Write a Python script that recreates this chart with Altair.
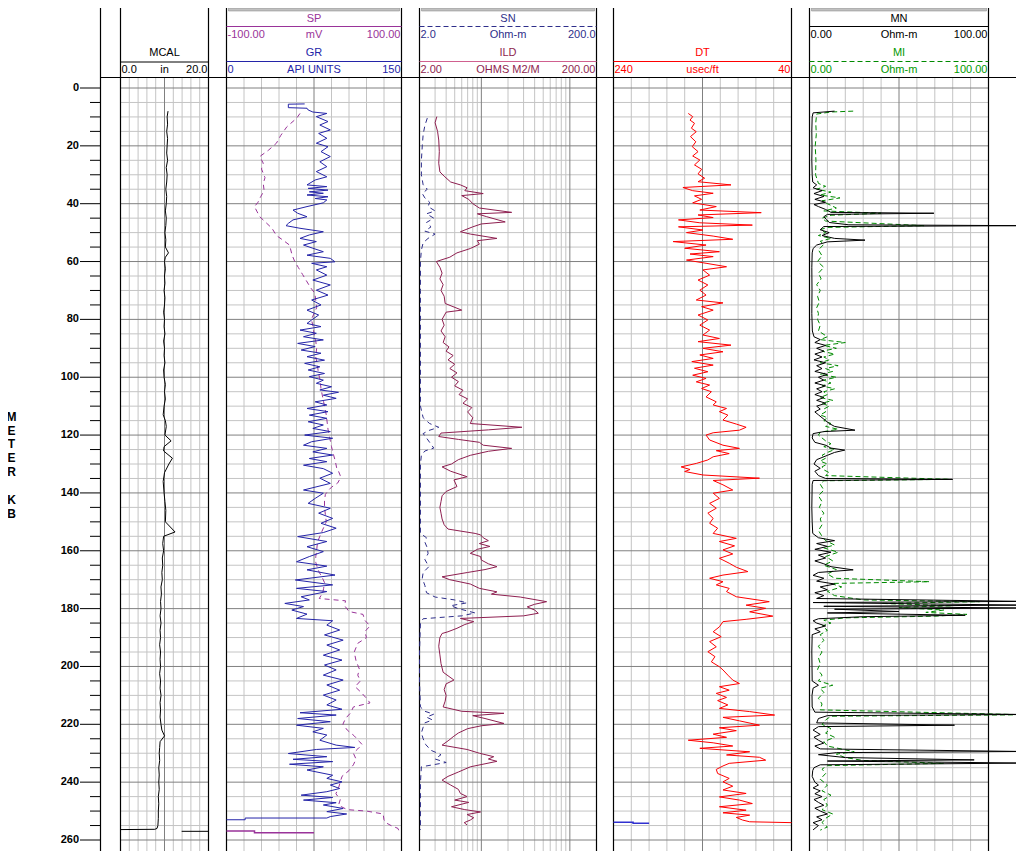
import altair as alt
import pandas as pd

FONT = "Liberation Sans, Arial, sans-serif"

# ---------------- data ----------------
DEPTH_LABELS = list(range(0, 261, 20))
DEPTH_MINOR = [d for d in range(0, 261, 5) if d % 20 != 0]

MCAL_GRID, MCAL_MAJOR, MCAL_EDGE = [2, 4, 6, 8, 12, 14, 16, 18], [10], [0, 20]
GR_GRID, GR_MAJOR, GR_EDGE = [15, 30, 45, 60, 90, 105, 120, 135], [75], [0, 150]
ILD_GRID = [3, 4, 5, 6, 7, 8, 9, 20, 30, 40, 50, 60, 70, 80, 90]
ILD_MAJOR, ILD_EDGE = [10, 100], [2, 200]
DT_GRID, DT_MAJOR, DT_EDGE = [220, 200, 180, 160, 120, 100, 80, 60], [140], [240, 40]
MN_GRID, MN_MAJOR, MN_EDGE = [10, 20, 30, 40, 60, 70, 80, 90], [50], [0, 100]

MCAL_HEADER = ["MCAL", "0.0", "in", "20.0"]
T2_HEADER = ["SP", "-100.00", "mV", "100.00", "GR", "0", "API UNITS", "150"]
T3_HEADER = ["SN", "2.0", "Ohm-m", "200.0", "ILD", "2.00", "OHMS M2/M", "200.00"]
T4_HEADER = ["DT", "240", "usec/ft", "40"]
T5_HEADER = ["MN", "0.00", "Ohm-m", "100.00", "MI", "0.00", "Ohm-m", "100.00"]
DEPTH_TITLE = ["M", "E", "T", "E", "R", "K", "B"]

MCAL = [(8, 10.8), (10, 10.6), (12.5, 10.7), (15, 10.5), (17.5, 10.7), (20, 10.6), (22.5, 10.5),
        (25, 10.7), (27.5, 10.4), (30, 10.6), (32.5, 10.5), (35, 10.3), (37.5, 10.5), (40, 10.4),
        (42.5, 10.2), (45, 10.4), (47.5, 10.3), (50, 10.1), (52.5, 10.3), (55, 10.2), (57, 10.9),
        (58.5, 10.2), (60, 10.0), (62.5, 10.2), (65, 10.0), (67.5, 10.1), (70, 9.9), (72.5, 10.1),
        (75, 10.0), (77.5, 9.8), (80, 10.0), (82.5, 9.9), (85, 10.1), (87.5, 9.8), (90, 10.0),
        (92.5, 9.9), (95, 10.1), (97.5, 9.8), (100, 9.9), (102.5, 10.2), (105, 10.0), (107.5, 10.2),
        (110, 9.9), (113, 9.7), (115, 10.2), (117, 10.4), (120, 10.1), (122, 11.5), (124, 9.9),
        (125.5, 9.8), (128, 11.8), (130, 11.0), (133, 10.0), (136, 9.7), (140, 9.9), (143, 10.1),
        (146, 10.3), (150, 10.2), (153.5, 12.4), (155, 9.8), (157.5, 9.6), (160, 9.8), (162.5, 9.5),
        (165, 9.6), (167.5, 9.4), (170, 9.5), (172.5, 9.2), (175, 9.3), (177.5, 9.1), (180, 9.2),
        (182.5, 9.0), (185, 9.2), (187.5, 9.0), (190, 9.1), (192.5, 8.9), (195, 9.1), (197.5, 9.0),
        (200, 9.1), (202.5, 8.9), (205, 9.1), (207.5, 9.0), (210, 9.2), (212.5, 9.0), (215, 9.1),
        (217.5, 9.0), (220, 9.2), (222, 9.4), (224, 10.0), (226, 9.0), (228, 8.9), (230, 8.8),
        (232.5, 8.9), (235, 8.7), (237.5, 8.8), (240, 8.7), (242.5, 8.8), (245, 8.6), (247.5, 8.7),
        (250, 8.6), (252.5, 8.6), (255, 8.5), (256.0, 8.3), (256.3, 7.8), (256.4, 0)]
MCAL_TAIL = [(257.0, 13.9), (257.0, 20)]

GR = [(5.5, 67), (5.6, 53), (6.8, 53), (7.0, 69), (7.6, 70), (8.3, 74), (8.8, 86),
      (9.9, 77), (11.6, 87), (12.8, 80), (14.5, 89), (15.7, 79), (17.4, 86), (19.1, 77), (20.3, 87),
      (22.0, 81), (23.7, 89), (25.5, 80), (27.2, 86), (28.9, 77), (30.7, 86), (31.8, 76),
      (33.5, 69), (34.1, 86), (34.7, 70), (35.3, 87), (35.9, 71), (36.4, 83), (37.0, 69), (37.6, 87),
      (38.2, 76), (38.7, 86), (39.7, 83),
      (41.0, 69), (42.2, 57), (43.3, 61), (44.5, 69), (45.6, 57), (46.8, 53), (47.6, 51), (48.5, 63),
      (49.7, 83), (50.8, 71), (52.0, 63), (53.1, 77), (54.3, 66), (55.4, 74),
      (56.6, 83), (57.8, 69), (58.9, 89), (60.1, 93), (60.6, 73), (61.8, 86), (62.9, 77),
      (64.7, 86), (66.4, 74), (68.1, 89), (69.9, 77), (71.6, 87), (73.3, 73), (75.0, 81), (76.8, 69),
      (78.5, 79), (80.2, 73),
      (81.4, 69), (82.5, 81), (83.7, 63), (84.8, 77), (86.0, 66), (87.1, 83), (88.3, 61), (89.4, 76),
      (90.6, 64), (91.7, 81), (92.9, 69), (94.1, 84), (95.2, 67), (96.4, 80), (97.5, 70), (98.7, 84),
      (99.8, 71), (101.0, 83),
      (102.1, 77), (103.3, 90), (104.4, 80), (105.2, 96), (106.2, 83), (107.3, 94), (108.5, 76),
      (109.6, 86), (110.8, 69), (111.9, 87), (113.1, 71), (114.2, 86), (115.4, 70), (116.5, 83),
      (117.7, 74), (118.8, 89), (120.0, 67), (121.1, 91), (122.3, 73),
      (123.5, 66), (124.6, 86), (125.8, 74), (126.9, 91), (128.1, 71), (129.2, 86), (130.4, 66),
      (131.6, 83),
      (133.2, 91), (134.9, 80), (136.7, 89), (139.0, 66), (140.1, 83), (141.9, 76), (143.6, 70),
      (145.3, 89), (147.0, 79), (148.8, 91), (150.5, 81), (152.2, 94), (153.7, 83),
      (155.1, 61), (156.8, 86), (158.6, 69), (160.3, 83), (162.0, 71), (163.8, 60), (165.3, 86),
      (166.6, 69), (168.4, 93), (170.1, 59), (171.8, 91), (173.0, 60), (174.1, 86), (175.9, 64),
      (177.0, 71), (178.2, 50), (179.3, 66), (180.5, 56), (181.9, 69), (183.4, 60), (184.2, 91),
      (185.7, 86), (187.4, 97), (189.1, 84), (190.9, 100), (192.6, 86), (194.3, 97), (196.1, 83),
      (197.8, 99), (199.5, 84), (201.2, 94), (203.0, 83), (204.7, 100), (206.4, 86), (208.2, 97),
      (209.9, 83), (211.6, 94), (213.3, 86), (214.8, 99),
      (216.0, 63), (216.8, 94), (218.0, 61), (219.1, 89), (220.3, 60), (221.4, 83), (222.6, 74),
      (223.7, 86), (225.5, 80), (227.2, 94), (228.0, 110), (228.7, 77),
      (230.1, 53), (231.2, 86), (232.1, 57), (232.9, 91), (233.8, 54), (234.7, 83), (235.8, 69),
      (237.6, 91), (238.7, 86), (239.9, 99), (241.0, 89), (242.2, 97), (243.3, 86),
      (244.5, 64), (245.3, 91), (246.2, 66), (247.1, 94), (247.9, 83), (249.1, 100), (250.2, 86),
      (251.0, 103), (251.9, 89), (252.4, 86), (252.4, 16), (253.0, 16), (253.0, 0)]

SP = [(8.8, -16), (10.5, -20), (13.4, -31), (16.4, -38), (19.1, -43), (21.5, -52), (23.7, -62),
      (26, -58), (28, -60), (31, -56), (33, -58), (35.5, -57), (37.6, -61), (39.5, -64), (41.0, -68),
      (42.8, -65), (44.5, -62), (46.5, -55), (48.5, -48), (51, -43), (52.7, -35), (54.3, -28),
      (57.8, -25), (60, -22), (62, -18), (64.5, -13), (66.5, -9), (69, -4), (71, 1), (73.5, 2),
      (76, 3), (78, 0), (80, -3), (82.5, -1), (85, 0), (87.5, 2), (90, 3), (93, 2), (96, 4),
      (98.5, 5), (101, 7), (104, 8), (107, 10), (110, 12), (113, 14), (115.5, 15), (118, 16),
      (121, 18), (124, 20), (126.5, 22), (128.6, 24), (130, 25), (131.5, 26), (132.5, 28), (134, 30),
      (135.5, 29), (136.6, 27), (138, 20), (139.3, 16), (140.5, 13), (142.5, 12), (145, 12),
      (147.5, 13), (150, 14), (152, 11), (154, 8), (157, 4), (160, 3), (162, 2), (164, 2), (166, 4),
      (167.5, 6), (169, 9), (171, 12), (173, 11), (174.5, 10), (176.5, 6), (177.3, 36), (179, 35),
      (181, 40), (182, 56), (184, 58), (186, 64), (188, 58), (190, 60), (192, 50), (195, 46),
      (198, 48), (201, 52), (203, 50), (205, 53), (207, 47), (209, 54), (211, 60), (212.6, 64),
      (214, 45), (216, 42), (218, 36), (220, 33), (222, 38), (224, 46), (226, 52), (227, 55),
      (228.5, 50), (230, 45), (232, 48), (234, 45), (236, 40), (238, 32), (240, 30), (242, 28),
      (244, 25), (246, 30), (248, 28), (249.5, 38), (250, 60), (251, 79), (253, 80), (254, 82),
      (255, 88), (256, 96), (256.8, 97)]
SP_TAIL = [(257.5, 0), (257.5, -68), (256.9, -68), (256.9, -100)]

ILD = [(9.9, 3.14), (12, 3.0), (15, 3.2), (18, 3.3), (22, 3.35), (26, 3.3), (29, 3.4), (30.5, 3.8),
       (32.5, 4.5), (33.5, 5.8), (34.5, 6.9), (35.5, 6.5), (36.5, 10.5), (37.2, 6.0), (38.5, 7.2),
       (40, 8.0), (41.5, 9.5), (43.0, 22), (43.5, 9.0), (44.5, 11.5), (46.3, 18.6), (47.0, 10),
       (48.0, 8), (49.7, 5.8), (50.5, 7.5), (52, 15), (52.8, 9), (54, 9.5), (55.5, 7.5), (57, 5.3),
       (58.5, 4.4), (60, 3.1), (62, 3.4), (64, 3.6), (66, 3.4), (68, 3.7), (70, 3.5), (72, 3.8),
       (74.5, 3.9), (76.8, 6.0), (77.5, 4.0), (80, 3.6), (82, 3.8), (84, 3.5), (86, 3.9), (88, 3.7),
       (89.5, 4.3), (91, 4.0), (92.5, 4.8), (94, 4.2), (95.5, 5.0), (97, 4.4), (98.5, 5.3),
       (100, 4.6), (101.5, 5.5), (103, 5.0), (104.5, 6.2), (106, 5.6), (107.5, 7.0), (109, 6.2),
       (110.5, 7.8), (112, 7.0), (114, 8.0), (116, 7.5), (117.3, 28.7), (118.2, 12), (119.3, 3.5),
       (120.5, 3.3), (121.5, 5.5), (122.5, 9.5), (123.5, 10.5), (124.6, 22), (125.6, 12),
       (127, 7.5), (128.5, 5.5), (130, 4.6), (131, 3.6), (132.5, 4.5), (134.4, 6.9), (135.5, 4.9),
       (137.8, 5.3), (139.5, 4.0), (141, 3.6), (143, 3.5), (145, 3.4), (147, 3.5), (149, 3.6),
       (151, 3.8), (152.5, 4.2), (154, 8.5), (154.5, 9.8), (155.5, 10.5), (156.5, 12), (157.5, 9.5),
       (158.5, 12.5), (159.5, 9), (160.9, 7.5), (162, 9.8), (163.2, 10), (164.5, 12), (165.5, 15),
       (166.5, 11), (167.5, 7), (169, 3.6), (170, 4.4), (171.5, 7.5), (173, 9.5), (174.2, 15),
       (175, 13), (176, 27.5), (177.6, 54.6), (178.5, 40), (179.4, 33), (180.5, 40), (181.6, 44),
       (182.5, 30), (183.4, 5.8), (184.5, 8.2), (185.5, 6.5), (186.8, 5.3), (188, 4.2), (188.6, 3.6),
       (190, 3.4), (193, 3.3), (196, 3.4), (199, 3.5), (202, 3.7), (204.7, 4.9), (206, 4.0),
       (208, 3.8), (210, 4.0), (212, 3.9), (214, 3.7), (215.5, 6), (216.2, 18), (217, 8), (218, 11),
       (219.7, 18), (220.5, 10), (221.5, 7), (223, 5.5), (224.3, 4.8), (225.5, 4.3), (227.2, 3.6),
       (228.7, 6.9), (230, 9.5), (231.2, 13.8), (232, 12), (232.8, 15), (234.7, 7.5), (236.5, 5.5),
       (238, 4.2), (239.3, 3.6), (241, 4.5), (242.5, 5.5), (243.9, 5.8), (245, 6.9), (246.2, 5),
       (247, 7.2), (248.5, 4.6), (249.5, 6.5), (250.3, 9.8), (251.2, 6.9), (252.3, 8.2),
       (253.1, 7.5), (254, 6.4), (254.8, 6.9)]

SN = [(10.4, 2.45), (13, 2.3), (16, 2.2), (20, 2.15), (25, 2.1), (30, 2.1), (33.5, 2.2), (35, 2.45),
      (36.5, 2.15), (38, 2.3), (39.5, 2.6), (41, 2.5), (42.5, 3.0), (43.5, 2.4), (45, 2.9),
      (46.5, 2.4), (48, 2.7), (49.5, 2.3), (50.5, 3.0), (52, 2.5), (53.5, 2.2), (56, 2.1),
      (60, 2.05), (70, 2.05), (80, 2.05), (90, 2.05), (100, 2.05), (110, 2.05), (114, 2.2),
      (116, 2.6), (117.3, 3.3), (118.5, 2.5), (119.5, 2.2), (121, 2.4), (122.5, 2.6), (124.5, 2.9),
      (125.5, 2.3), (127, 2.1), (130, 2.05), (135, 2.05), (145, 2.05), (154, 2.05), (155.5, 2.4),
      (157, 2.3), (159, 2.45), (161, 2.5), (163, 2.3), (165.5, 2.55), (167.5, 2.2), (169.5, 2.15),
      (172, 2.3), (174.5, 2.4), (176, 3.0), (177, 5.0), (178, 6.9), (179, 4.5), (180, 5.5),
      (181.5, 8.5), (182.5, 6), (183.5, 2.2), (185, 2.05), (195, 2.0), (205, 2.0), (214, 2.05),
      (215.5, 2.3), (216.5, 2.9), (217.5, 2.4), (218.5, 2.8), (219.5, 2.3), (221, 2.2), (223, 2.1),
      (225, 2.2), (227, 2.35), (229, 2.7), (230.5, 3.5), (232, 3.0), (233.2, 4.0), (234.7, 2.1),
      (240, 2.05), (250, 2.05), (256.5, 2.05)]

DT = [(8.8, 156), (9.9, 151), (11.1, 154), (12.2, 149), (13.9, 152.5), (15.1, 147), (16.8, 153.5),
      (18.6, 147.5), (20.3, 151.5), (22.0, 145), (23.5, 151), (24.9, 143), (26.6, 149), (28.1, 141),
      (29.7, 145), (31.2, 137.6), (32.4, 145), (33.5, 108), (34.4, 162), (35.5, 151), (36.4, 128),
      (37.3, 149), (38.5, 141), (39.7, 151), (41.0, 124.5), (42.2, 143), (43.1, 74), (43.9, 145),
      (44.8, 128), (45.6, 167), (46.6, 143), (47.4, 84), (48.0, 167), (49.1, 139.5), (50.0, 158),
      (51.2, 128), (52.3, 106), (53.1, 173), (54.3, 136), (55.4, 160), (56.6, 121), (57.4, 154),
      (58.3, 128), (59.5, 158), (60.6, 136), (61.8, 113), (62.9, 139.5), (64.7, 132), (66.4, 145),
      (68.1, 134), (69.9, 143), (71.6, 136), (73.3, 147), (74.3, 117), (75.6, 141), (76.8, 128),
      (78.5, 145), (80.2, 134), (82.0, 143), (83.7, 132), (85.4, 139.5), (86.6, 121), (87.7, 145),
      (88.9, 108), (90.0, 139.5), (91.2, 117), (92.3, 143), (93.5, 128), (94.6, 152), (95.8, 128),
      (96.9, 149), (98.1, 134), (99.3, 151), (100.4, 136), (101.6, 147), (102.7, 132), (103.9, 141),
      (105.0, 130), (106.8, 136), (108.5, 124.5), (109.6, 128), (110.8, 113), (111.9, 121),
      (113.1, 111.5), (114.8, 117), (116.2, 102), (117.3, 91), (118.3, 98.5), (119.2, 128),
      (120.0, 136), (121.7, 132), (123.5, 117), (124.6, 98.5), (125.4, 124.5), (126.4, 110),
      (127.5, 128), (128.6, 134), (129.8, 147), (131.0, 164), (131.9, 154), (132.6, 160),
      (133.8, 139.5), (134.9, 76), (135.7, 128), (137.2, 117), (139.0, 106), (140.1, 128),
      (141.9, 121), (143.6, 132), (145.3, 124.5), (147.0, 134), (148.8, 128), (150.5, 132),
      (152.2, 123), (154.0, 128), (155.7, 102), (156.8, 121), (158.3, 104), (159.7, 117),
      (161.1, 106), (162.6, 121), (164.3, 110), (165.7, 102), (167.2, 89), (168.4, 117),
      (169.5, 132), (170.7, 117), (171.8, 124.5), (173.0, 110), (174.1, 113), (175.9, 102),
      (177.6, 65), (178.8, 91), (179.9, 69), (181.1, 87), (182.6, 61), (183.7, 91), (184.5, 117),
      (186.3, 121), (188.0, 128), (189.7, 119), (191.4, 132), (193.2, 124.5), (194.9, 134),
      (196.6, 126), (198.4, 130), (200.1, 121), (201.2, 117), (203.0, 111.5), (204.7, 106),
      (205.9, 98.5), (207.0, 121), (208.2, 110), (209.3, 124.5), (210.7, 113), (211.8, 123),
      (213.3, 111.5), (214.5, 121), (215.6, 87), (216.8, 59), (217.6, 117), (218.8, 98.5),
      (220.3, 76), (221.2, 121), (222.2, 102), (223.4, 128), (224.5, 113), (225.5, 156),
      (226.4, 128), (227.5, 106), (228.3, 143), (229.5, 87), (230.6, 113), (231.4, 76), (232.4, 69),
      (233.5, 110), (234.4, 117), (235.6, 124.5), (237.0, 123), (238.7, 110), (239.9, 117),
      (241.4, 106), (242.7, 117), (243.9, 91), (245.1, 121), (246.2, 98.5), (247.4, 84),
      (248.5, 121), (249.7, 91), (250.6, 117), (251.4, 87), (252.2, 102), (253.1, 95), (253.7, 87),
      (254.0, 40)]
DT_BLUE = [(253.9, 240), (253.9, 218), (254.2, 218), (254.2, 200)]

MN = [(8.0, 14), (8.6, 2.0), (10, 1.5), (15, 1.3), (20, 1.4), (25, 1.3), (30, 1.5), (32.5, 1.8),
      (33.5, 4), (34.5, 2), (35.5, 7), (36.5, 2.5), (37.5, 8), (38.5, 3), (39.5, 9), (40.3, 2.5),
      (41, 5), (42, 9), (43.0, 12), (43.3, 69.5), (43.7, 10), (44.5, 8), (45.5, 9.5), (46.5, 11),
      (47.3, 22), (47.6, 120), (47.9, 8), (49, 6), (50, 11), (51, 7), (52.0, 14), (52.6, 31),
      (53.2, 10), (54.3, 4), (55.5, 2), (57, 1.5), (62, 1.3), (70, 1.4), (78, 1.3), (84, 1.6),
      (86, 2.5), (87, 6), (88, 3), (89, 9), (90, 4), (91, 8), (92, 3), (93, 7), (94, 2.5), (95, 9),
      (96, 4), (97, 7), (98, 3), (99, 10), (100, 5), (101, 8), (102, 3), (103, 9), (104, 4),
      (105, 7), (106, 3), (107, 8), (108, 4), (109, 9), (110, 4), (111, 6), (112, 3), (113, 5),
      (114, 7), (115, 9), (116, 11), (117, 14), (118.3, 25.4), (118.8, 8), (119.5, 2), (121, 1.5),
      (122.5, 3), (123.5, 9), (124.5, 12), (125.2, 19.7), (126, 14), (127, 10), (128.5, 4),
      (130, 2.5), (131.5, 6), (132.5, 3), (134, 5), (135.0, 9), (135.3, 80), (135.7, 2), (137, 1.5),
      (145, 1.3), (150, 1.5), (154, 1.8), (155.5, 5), (156.5, 14), (157.5, 4), (158.5, 10),
      (159.5, 3), (160.5, 12), (161.5, 5), (162.5, 9), (163.5, 3), (164.5, 8), (165.5, 12),
      (166.6, 24.4), (167.5, 5), (168.5, 2), (169.5, 8), (170.5, 4), (171.5, 14), (172.5, 6),
      (173.5, 10), (174.5, 3), (175.5, 8), (176.5, 4), (177.5, 120), (177.9, 2), (178.8, 120),
      (179.2, 8), (179.8, 120), (180.2, 14), (181.0, 50), (181.5, 10), (182.3, 87), (182.8, 30),
      (183.5, 5), (184.2, 2), (185, 4), (186, 9), (187, 3), (188, 6), (189, 1.5), (195, 1.3),
      (200, 1.4), (205, 1.5), (206.5, 5), (207.5, 2), (210, 1.4), (214, 1.5), (215.8, 3),
      (216.6, 120), (217.0, 10), (218, 5), (219.5, 4), (220.3, 81), (220.8, 5), (222, 2),
      (223.5, 6), (224.5, 2.5), (225.5, 5), (226.5, 8), (227.5, 3), (228.5, 6), (229.4, 120),
      (229.8, 15), (230.5, 5), (231.5, 20), (232.3, 92), (232.7, 10), (233.4, 120), (234, 6),
      (235, 2.5), (236, 1.8), (238, 1.5), (240, 3), (241, 5), (242, 2), (243, 6), (244, 3), (245, 7),
      (246, 2.5), (247, 5), (248, 8), (249, 3), (250, 6), (251, 10), (252, 4), (253, 7), (254, 2),
      (255, 5), (256.5, 2)]

MI = [(8.0, 24.4), (8.3, 12), (9, 4), (12, 3.5), (16, 3.8), (20, 3.2), (25, 3.6), (30, 3.4),
      (33, 5), (34, 9), (35, 4), (36, 12), (37, 6), (38, 17), (39, 7), (40, 10), (41.5, 15),
      (42.5, 8), (43.3, 40), (44, 12), (45, 7), (46, 9), (47.6, 64), (48.2, 10), (49, 6), (50, 9),
      (51, 5), (52, 12), (53, 6), (54, 8), (56, 5), (58, 7), (60, 4.5), (62, 8), (64, 5), (66, 6.5),
      (68, 4), (70, 6), (72, 4.5), (74, 5.5), (76, 4), (78, 5), (80, 4.5), (82, 6), (84, 5),
      (86, 10), (87, 6), (88, 20), (89, 8), (90, 15), (91, 7), (92, 14), (93, 8), (94, 11), (95, 6),
      (96, 16), (97, 9), (98, 13), (99, 6), (100, 15), (101, 8), (102, 12), (103, 7), (104, 14),
      (105, 8), (106, 10), (107, 6), (108, 13), (109, 7), (110, 11), (111, 8), (112, 9), (113, 6),
      (114, 10), (115, 8), (116, 12), (117, 9), (118, 16), (119, 6), (120, 5), (121, 7), (122, 9),
      (123, 12), (124, 8), (125, 14), (126, 10), (127, 7), (128, 9), (129, 6), (130, 10), (131, 7),
      (132, 8), (133, 11), (134, 9), (135.3, 78), (135.8, 8), (137, 6), (139, 8), (141, 5),
      (143, 7), (145, 5.5), (147, 8), (149, 6), (151, 7), (153, 5), (155, 7), (156.5, 9), (158, 14),
      (159, 8), (160.5, 16), (162, 9), (163.5, 13), (165, 8), (166.5, 15), (168, 10), (169.5, 14),
      (170.7, 67), (171.3, 12), (172.5, 18), (174, 10), (175.5, 14), (177, 30), (177.6, 95),
      (178.2, 40), (179.0, 80), (179.6, 50), (180.5, 75), (181.3, 65), (182.0, 88), (182.6, 70),
      (183.2, 20), (184, 8), (185, 12), (186, 7), (187.5, 10), (189, 6), (191, 8), (193, 5),
      (195, 7), (197, 5), (199, 6), (201, 4.5), (203, 7), (205, 5), (206.5, 13), (207.5, 6),
      (209, 8), (211, 5), (213, 7), (215, 6), (216.7, 120), (217.2, 12), (218.5, 9), (220, 7),
      (221.5, 12), (223, 9), (224.5, 14), (226, 8), (227.5, 10), (229.5, 25), (230.3, 15),
      (231.5, 20), (232.5, 30), (233.5, 75), (234.3, 10), (235.5, 7), (237, 9), (239, 6), (241, 10),
      (243, 7), (244.5, 12), (246, 8), (248, 10), (249.5, 7), (251, 13), (252.5, 9), (254, 7),
      (255.5, 10), (256.6, 6)]

# ---------------- styling / layout ----------------
C_SP, C_GR, C_SN, C_ILD = "#993399", "#2424a8", "#2e2e8a", "#8e1f50"
C_DT, C_MN, C_MI, C_MIT = "#ff0000", "#000000", "#008a00", "#009900"
G_MINOR, G_MAJOR = "#c4c4c4", "#808080"

W, H = 1008, 843
Y_RANGE = [80, 832]
X_MCAL, X_T2, X_T3, X_T4, X_T5 = [112.5, 200.5], [218.5, 393.5], [411.5, 588.5], [605.5, 783.5], [801.5, 980.5]
R1, R2, R3, R4 = 10.5, 27.3, 44.5, 62
TOP = 69.5
HFONT = 11
TITLE_Y = [409, 423, 436, 450, 464, 492, 506]

S_MCAL = dict(domain=[0, 20], range=X_MCAL)
S_GR = dict(domain=[0, 150], range=X_T2)
S_SP = dict(domain=[-100, 100], range=X_T2)
S_ILD = dict(type="log", domain=[2, 200], range=X_T3)
S_DT = dict(domain=[240, 40], range=X_T4)
S_MN = dict(domain=[0, 100], range=X_T5)


def yenc():
    return alt.Y("depth:Q", scale=alt.Scale(domain=[0, 260], range=Y_RANGE), axis=None)


def one():
    return pd.DataFrame({"k": [0]})


def curve(pairs, sc, color, dash=None, width=1.0):
    df = pd.DataFrame(pairs, columns=["depth", "v"])
    df["i"] = range(len(df))
    kw = dict(color=color, strokeWidth=width)
    if dash:
        kw["strokeDash"] = dash
    return alt.Chart(df).mark_line(**kw).encode(
        x=alt.X("v:Q", scale=alt.Scale(**sc), axis=None), y=yenc(), order="i:Q")


def vgrid(vals, sc, color, y0=TOP, width=1.0):
    df = pd.DataFrame({"v": vals})
    return alt.Chart(df).mark_rule(color=color, strokeWidth=width).encode(
        x=alt.X("v:Q", scale=alt.Scale(**sc), axis=None), y=alt.value(y0), y2=alt.value(H))


def hgrid(vals, xr, color):
    df = pd.DataFrame({"depth": vals})
    return alt.Chart(df).mark_rule(color=color, strokeWidth=1).encode(
        y=yenc(), x=alt.value(xr[0]), x2=alt.value(xr[1]))


def hline(xr, y, color, dash=None, width=1.0):
    kw = dict(color=color, strokeWidth=width)
    if dash:
        kw["strokeDash"] = dash
    return alt.Chart(one()).mark_rule(**kw).encode(
        x=alt.value(xr[0]), x2=alt.value(xr[1]), y=alt.value(y))


def txt(s, x, y, color="#000000", align="center", size=HFONT, bold=False):
    return alt.Chart(pd.DataFrame({"t": [s]})).mark_text(
        align=align, baseline="middle", font=FONT, fontSize=size,
        fontWeight="bold" if bold else "normal", color=color).encode(
        x=alt.value(x), y=alt.value(y), text="t:N")


def gbar(xr):
    return alt.Chart(one()).mark_rect(color="#c0c0c0", stroke="#808080", strokeWidth=0.5).encode(
        x=alt.value(xr[0] + 2), x2=alt.value(xr[1] - 2), y=alt.value(0), y2=alt.value(3))


def row3(labels, xr, y, color):
    return [txt(labels[0], xr[0] + 1, y, color, "left"),
            txt(labels[1], (xr[0] + xr[1]) / 2, y, color, "center"),
            txt(labels[2], xr[1] - 1, y, color, "right")]


layers = []
# grids
for xr, sc, minor, major, edge in [
    (X_MCAL, S_MCAL, MCAL_GRID, MCAL_MAJOR, MCAL_EDGE),
    (X_T2, S_GR, GR_GRID, GR_MAJOR, GR_EDGE),
    (X_T3, S_ILD, ILD_GRID, ILD_MAJOR, ILD_EDGE),
    (X_T4, S_DT, DT_GRID, DT_MAJOR, DT_EDGE),
    (X_T5, S_MN, MN_GRID, MN_MAJOR, MN_EDGE),
]:
    layers += [hgrid(DEPTH_MINOR, xr, G_MINOR), vgrid(minor, sc, G_MINOR),
               hgrid(DEPTH_LABELS, xr, G_MAJOR), vgrid(major, sc, G_MAJOR),
               vgrid(edge, sc, "#000000", y0=0, width=1.2)]

# depth track
layers += [
    alt.Chart(one()).mark_rule(color="#000000", strokeWidth=1.2).encode(
        x=alt.value(92.5), y=alt.value(0), y2=alt.value(H)),
    hline([92, W], TOP, "#000000", width=1.2),
    alt.Chart(pd.DataFrame({"depth": DEPTH_MINOR})).mark_rule(color="#000000").encode(
        y=yenc(), x=alt.value(82), x2=alt.value(92)),
    alt.Chart(pd.DataFrame({"depth": DEPTH_LABELS})).mark_rule(color="#000000").encode(
        y=yenc(), x=alt.value(72), x2=alt.value(92)),
    alt.Chart(pd.DataFrame({"depth": DEPTH_LABELS})).mark_text(
        align="right", baseline="middle", font=FONT, fontSize=11, fontWeight="bold",
        color="#000000").encode(y=yenc(), x=alt.value(71), text=alt.Text("depth:Q", format="d")),
]
for letter, ty in zip(DEPTH_TITLE, TITLE_Y):
    layers.append(txt(letter, 3.5, ty, "#000000", "center", size=12, bold=True))

# curves
layers += [
    curve(MCAL, S_MCAL, "#000000"),
    curve(MCAL_TAIL, S_MCAL, "#000000"),
    curve(SP, S_SP, C_SP, dash=[5, 4]),
    curve(SP_TAIL, S_SP, C_SP, width=1.5),
    curve(GR, S_GR, C_GR),
    curve(SN, S_ILD, C_SN, dash=[5, 4]),
    curve(ILD, S_ILD, C_ILD),
    curve(DT, S_DT, C_DT),
    curve(DT_BLUE, S_DT, "#3030d0", width=1.5),
    curve(MI, S_MN, C_MI, dash=[5, 3]),
    curve(MN, S_MN, C_MN),
]

# headers
layers += [gbar(X_T2), gbar(X_T3), gbar(X_T5)]
layers += [txt(MCAL_HEADER[0], (X_MCAL[0] + X_MCAL[1]) / 2, R3),
           hline(X_MCAL, 54, "#000000")] + row3(MCAL_HEADER[1:4], X_MCAL, R4, "#000000")
layers += [txt(T2_HEADER[0], (X_T2[0] + X_T2[1]) / 2, R1, C_SP), hline(X_T2, 18.5, C_SP)]
layers += row3(T2_HEADER[1:4], X_T2, R2, C_SP)
layers += [txt(T2_HEADER[4], (X_T2[0] + X_T2[1]) / 2, R3, C_GR), hline(X_T2, 53.5, C_GR)]
layers += row3(T2_HEADER[5:8], X_T2, R4, C_GR)
layers += [txt(T3_HEADER[0], (X_T3[0] + X_T3[1]) / 2, R1, C_SN), hline(X_T3, 18.5, C_SN, dash=[5, 3])]
layers += row3(T3_HEADER[1:4], X_T3, R2, C_SN)
layers += [txt(T3_HEADER[4], (X_T3[0] + X_T3[1]) / 2, R3, C_ILD), hline(X_T3, 53.5, "#d0608f")]
layers += row3(T3_HEADER[5:8], X_T3, R4, C_ILD)
layers += [txt(T4_HEADER[0], (X_T4[0] + X_T4[1]) / 2, R3, C_DT), hline(X_T4, 53.5, C_DT)]
layers += row3(T4_HEADER[1:4], X_T4, R4, C_DT)
layers += [txt(T5_HEADER[0], (X_T5[0] + X_T5[1]) / 2, R1, "#000000"), hline(X_T5, 18.5, "#000000")]
layers += row3(T5_HEADER[1:4], X_T5, R2, "#000000")
layers += [txt(T5_HEADER[4], (X_T5[0] + X_T5[1]) / 2, R3, C_MIT), hline(X_T5, 53.5, C_MI, dash=[5, 3])]
layers += row3(T5_HEADER[5:8], X_T5, R4, C_MIT)

chart = alt.layer(*layers).resolve_scale(x="independent").properties(
    width=W, height=H, padding=0, autosize=alt.AutoSizeParams(type="none"),
    background="white",
).configure_view(stroke=None)

chart.save("out.html", embed_options={"renderer": "svg", "actions": False})
